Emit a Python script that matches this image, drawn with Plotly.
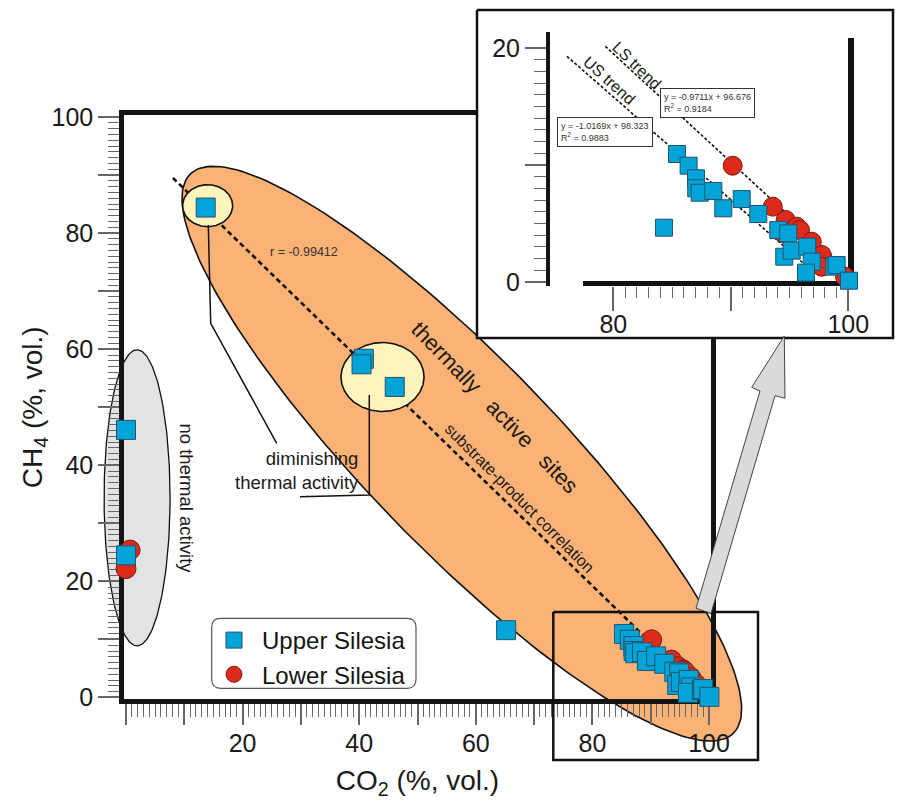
import numpy as np
import plotly.graph_objects as go

# ---------------- data ----------------
us_x = [13.67, 40.8, 40.4, 46.1, 0.0, 0.0, 65.2,
        85.42, 86.41, 87.04, 87.06, 87.35, 88.51, 89.36, 90.93, 92.34, 94.04,
        94.89, 94.55, 95.18, 96.51, 96.89, 96.40, 98.81, 99.01, 100.06]
us_y = [84.4, 58.35, 57.4, 53.5, 46.1, 24.5, 11.6,
        10.94, 9.94, 8.86, 8.01, 7.63, 7.78, 6.30, 7.09, 5.81, 4.44,
        4.16, 2.16, 2.68, 3.02, 1.74, 0.80, 1.31, 1.45, 0.11]
# sample that appears only in the enlarged panel
us_inset_only_x = [84.31]
us_inset_only_y = [4.64]
ls_x = [0.7, 0.0, 90.16, 93.57, 94.67, 95.61, 95.89, 96.89, 97.74, 97.74, 99.72, 94.47]
ls_y = [25.4, 22.2, 9.94, 6.44, 5.30, 4.73, 4.44, 3.44, 2.31, 1.31, 0.45, 4.16]

# correlation / trend lines (end points)
r_line_x = [8.06, 88.68]
r_line_y = [89.49, 10.77]
us_trend_x = [76.06, 97.19]
us_trend_y = [19.29, 0.71]
ls_trend_x = [79.32, 100.31]
ls_trend_y = [20.14, 0.71]

x_tick_vals = list(range(0, 101, 10))
x_tick_text = ["", "", "20", "", "40", "", "60", "", "80", "", "100"]
y_tick_text = ["0", "", "20", "", "40", "", "60", "", "80", "", "100"]
inset_x_ticks = [80, 90, 100]
inset_x_text = ["80", "", "100"]
inset_y_ticks = [0, 10, 20]
inset_y_text = ["0", "", "20"]

# ---------------- layout calibration ----------------
W, H = 905, 803
OFF = 8                   # page body margin: figure is drawn 8 px in from the window corner
FONT = "Liberation Sans, Arial, sans-serif"
X0, SX = 126.0, 5.83      # main: window pixel of CO2 = 0, px per unit
Y0, SY = 697.5, 5.805     # main: window pixel of CH4 = 0, px per unit
IX80, ISX = 613.3, 11.75  # inset: window pixel of CO2 = 80, px per unit
IY0, ISY = 282.0, 11.7    # inset: window pixel of CH4 = 0, px per unit


def fx(px):   # window pixel -> paper fraction
    return (px - OFF) / W


def fy(py):
    return 1 - (py - OFF) / H


def mx(px):
    return (px - X0) / SX


def my(py):
    return (Y0 - py) / SY


def ix(px):
    return 80 + (px - IX80) / ISX


def iy(py):
    return (IY0 - py) / ISY


full_xr = [mx(OFF), mx(OFF + W)]
full_yr = [my(OFF + H), my(OFF)]
pad = 0.3
frame_xd = [fx(X0 - pad * SX), fx(X0 + (100 + pad) * SX)]
frame_yd = [fy(Y0 + pad * SY), fy(Y0 - (100 + pad) * SY)]
ins_px = [550, 856]
ins_py = [286, 32]
ins_xr = [ix(ins_px[0]), ix(ins_px[1])]
ins_yr = [iy(ins_py[0]), iy(ins_py[1])]
ins_xd = [fx(ins_px[0]), fx(ins_px[1])]
ins_yd = [fy(ins_py[0]), fy(ins_py[1])]


def ellipse(cx, cy, a, b, ang=0.0, n=241):
    t = np.linspace(0, 2 * np.pi, n)
    c, s = np.cos(np.radians(ang)), np.sin(np.radians(ang))
    x = cx + a * np.cos(t) * c - b * np.sin(t) * s
    y = cy + a * np.cos(t) * s + b * np.sin(t) * c
    return x, y


fig = go.Figure()
BG = dict(xaxis="x", yaxis="y")
FR = dict(xaxis="x2", yaxis="y2")
FG = dict(xaxis="x3", yaxis="y3")
IN = dict(xaxis="x4", yaxis="y4")
nohover = dict(hoverinfo="skip", showlegend=False)

# ---- background subplot: regions, correlation line, leader lines ----
gx, gy = ellipse(1.9, 34.4, 5.66, 25.5)
fig.add_trace(go.Scatter(x=gx, y=gy, mode="lines", fill="toself", fillcolor="#e1e3e5",
                         line=dict(color="#111", width=1.3), **BG, **nohover))
ox, oy = ellipse(57.6, 42.0, 67.0, 16.3, -46)
fig.add_trace(go.Scatter(x=ox, y=oy, mode="lines", fill="toself", fillcolor="#fbb276",
                         line=dict(color="#111", width=1.6), **BG, **nohover))
fig.add_trace(go.Scatter(x=r_line_x, y=r_line_y, mode="lines",
                         line=dict(color="#111", width=2.6, dash="5px,3.5px"), **BG, **nohover))
for (cx, cy, a, b) in [(14.0, 84.72, 4.29, 3.62), (44.0, 55.21, 7.12, 5.94)]:
    ex, ey = ellipse(cx, cy, a, b)
    fig.add_trace(go.Scatter(x=ex, y=ey, mode="lines", fill="toself", fillcolor="#fff4bb",
                             line=dict(color="#111", width=1.6), **BG, **nohover))
fig.add_trace(go.Scatter(x=[mx(208.3), mx(210.7), mx(276.7)], y=[my(225), my(323.3), my(443.3)],
                         mode="lines", line=dict(color="#111", width=1.5), **BG, **nohover))
fig.add_trace(go.Scatter(x=[mx(369.3), mx(369.3), mx(300)], y=[my(395), my(495), my(496.7)],
                         mode="lines", line=dict(color="#111", width=1.5), **BG, **nohover))

# ---- frame subplot: data markers ----
fig.add_trace(go.Scatter(x=ls_x, y=ls_y, mode="markers", name="Lower Silesia", legendrank=2,
                         marker=dict(symbol="circle", size=20, color="#dd2a1b",
                                     line=dict(color="#7a1a10", width=1)),
                         cliponaxis=False, **FR))
fig.add_trace(go.Scatter(x=us_x, y=us_y, mode="markers", name="Upper Silesia", legendrank=1,
                         marker=dict(symbol="square", size=19, color="#00a4d6",
                                     line=dict(color="#24536e", width=1)),
                         cliponaxis=False, **FR))

# ---- foreground subplot: zoom box, inset cover, arrow ----
fig.add_trace(go.Scatter(x=[mx(553.3), mx(758), mx(758), mx(553.3), mx(553.3)],
                         y=[my(612), my(612), my(760), my(760), my(612)], mode="lines",
                         line=dict(color="#111", width=2.5), **FG, **nohover))
fig.add_trace(go.Scatter(x=[mx(477), mx(893), mx(893), mx(477), mx(477)],
                         y=[my(10), my(10), my(338), my(338), my(10)], mode="lines",
                         fill="toself", fillcolor="white",
                         line=dict(color="#111", width=2.5), **FG, **nohover))
arrow_px = [(784.3, 336), (785, 398.3), (775, 395.7), (711, 613.3), (696, 608.3),
            (760, 391), (751.7, 387.3), (784.3, 336)]
fig.add_trace(go.Scatter(x=[mx(p[0]) for p in arrow_px], y=[my(p[1]) for p in arrow_px],
                         mode="lines", fill="toself", fillcolor="#d9dadb",
                         line=dict(color="#444", width=1), **FG, **nohover))

# ---- inset subplot ----
fig.add_trace(go.Scatter(x=[ix(583), ix(854)], y=[iy(283.5), iy(283.5)], mode="lines",
                         line=dict(color="#111", width=5), **IN, **nohover))
fig.add_trace(go.Scatter(x=[ix(851), ix(851)], y=[ins_yr[0], iy(38)], mode="lines",
                         line=dict(color="#111", width=6), **IN, **nohover))
fig.add_trace(go.Scatter(x=us_trend_x, y=us_trend_y, mode="lines",
                         line=dict(color="#111", width=1.6, dash="3px,2px"), **IN, **nohover))
fig.add_trace(go.Scatter(x=ls_trend_x, y=ls_trend_y, mode="lines",
                         line=dict(color="#111", width=1.6, dash="3px,2px"), **IN, **nohover))
ins_ls = [(a, b) for a, b in zip(ls_x, ls_y) if a >= ins_xr[0]]
ins_us = [(a, b) for a, b in zip(us_x + us_inset_only_x, us_y + us_inset_only_y)
          if a >= ins_xr[0]]
fig.add_trace(go.Scatter(x=[p[0] for p in ins_ls], y=[p[1] for p in ins_ls], mode="markers",
                         marker=dict(symbol="circle", size=19, color="#dd2a1b",
                                     line=dict(color="#7a1a10", width=1)),
                         cliponaxis=False, **IN, **nohover))
fig.add_trace(go.Scatter(x=[p[0] for p in ins_us], y=[p[1] for p in ins_us], mode="markers",
                         marker=dict(symbol="square", size=17, color="#00a4d6",
                                     line=dict(color="#24536e", width=1)),
                         cliponaxis=False, **IN, **nohover))

hidden = dict(visible=False, showgrid=False, zeroline=False, fixedrange=True, automargin=False)
tickfont = dict(family=FONT, size=25, color="#1a1a1a")
axis_common = dict(showgrid=False, zeroline=False, fixedrange=True, showline=True,
                   linecolor="#141414", ticks="outside", tickcolor="#666", automargin=False,
                   tickfont=tickfont, layer="below traces", tickmode="array")

minor_main = [v for v in range(0, 101) if v % 10]

fig.update_layout(
    width=W, height=H, margin=dict(l=0, r=0, t=0, b=0, pad=0, autoexpand=False),
    paper_bgcolor="white", plot_bgcolor="rgba(0,0,0,0)",
    xaxis=dict(domain=[0, 1], range=full_xr, anchor="y", **hidden),
    yaxis=dict(domain=[0, 1], range=full_yr, anchor="x", **hidden),
    xaxis3=dict(domain=[0, 1], range=full_xr, anchor="y3", **hidden),
    yaxis3=dict(domain=[0, 1], range=full_yr, anchor="x3", **hidden),
    xaxis2=dict(domain=frame_xd, range=[-pad, 100 + pad], anchor="y2", mirror=True,
                linewidth=5, tickvals=x_tick_vals, ticktext=x_tick_text,
                ticklen=21, tickwidth=1.5, ticklabelstandoff=-3,
                minor=dict(tickmode="array", tickvals=minor_main, ticks="outside",
                           ticklen=13, tickwidth=1.2, tickcolor="#666"),
                title=dict(text="CO<sub>2</sub> (%, vol.)", standoff=16,
                           font=dict(family=FONT, size=28, color="#1a1a1a")),
                **axis_common),
    yaxis2=dict(domain=frame_yd, range=[-pad, 100 + pad], anchor="x2", mirror=True,
                linewidth=5, tickvals=x_tick_vals, ticktext=y_tick_text,
                ticklen=21, tickwidth=1.5,
                minor=dict(tickmode="array", tickvals=minor_main, ticks="outside",
                           ticklen=11, tickwidth=1.2, tickcolor="#666"),
                title=dict(text="CH<sub>4</sub> (%, vol.)", standoff=2,
                           font=dict(family=FONT, size=28, color="#1a1a1a")),
                **axis_common),
    xaxis4=dict(domain=ins_xd, range=ins_xr, anchor="y4", showgrid=False, zeroline=False,
                fixedrange=True, showline=False, ticks="outside", tickcolor="#666",
                automargin=False, ticklabelstandoff=-8,
                tickmode="array", tickvals=inset_x_ticks, ticktext=inset_x_text,
                ticklen=24, tickwidth=1.5, tickfont=tickfont,
                minor=dict(tickmode="array", tickvals=[v for v in range(81, 100) if v != 90],
                           ticks="outside", ticklen=11, tickwidth=1.2, tickcolor="#666")),
    yaxis4=dict(domain=ins_yd, range=ins_yr, anchor="x4", linewidth=4,
                tickvals=inset_y_ticks, ticktext=inset_y_text, ticklen=21, tickwidth=1.5,
                minor=dict(tickmode="array", tickvals=[v for v in range(1, 20) if v != 10],
                           ticks="outside", ticklen=12, tickwidth=1.2, tickcolor="#666"),
                **axis_common),
    legend=dict(x=fx(206), y=fy(618), xanchor="left", yanchor="top",
                bgcolor="rgba(0,0,0,0)", borderwidth=0, itemwidth=46,
                font=dict(family=FONT, size=24, color="#141414")),
)


def rr_path(x0, y0, x1, y1, r):
    def P(px, py):
        return f"{fx(px):.5f},{fy(py):.5f}"
    return (f"M {P(x0 + r, y0)} L {P(x1 - r, y0)} Q {P(x1, y0)} {P(x1, y0 + r)} "
            f"L {P(x1, y1 - r)} Q {P(x1, y1)} {P(x1 - r, y1)} L {P(x0 + r, y1)} "
            f"Q {P(x0, y1)} {P(x0, y1 - r)} L {P(x0, y0 + r)} Q {P(x0, y0)} {P(x0 + r, y0)} Z")


fig.add_shape(type="path", path=rr_path(211.7, 618.3, 416, 688.3, 9), xref="paper", yref="paper",
              line=dict(color="#555", width=1.2), layer="above")

txt = "#1a1a1a"
ann = [
    dict(x=mx(304), y=my(252), xref="x", yref="y", text="r = -0.99412",
         font=dict(family=FONT, size=12.5, color="#333")),
    dict(x=mx(495), y=my(407), xref="x", yref="y",
         text="thermally\u00a0\u00a0\u00a0active\u00a0\u00a0\u00a0sites", textangle=46,
         font=dict(family=FONT, size=22, color=txt)),
    dict(x=mx(520), y=my(498), xref="x", yref="y", text="substrate-product correlation",
         textangle=45, font=dict(family=FONT, size=16, color=txt)),
    dict(x=mx(186.5), y=my(498), xref="x", yref="y", text="no thermal activity",
         textangle=90, font=dict(family=FONT, size=18.5, color=txt)),
    dict(x=mx(361), y=my(470), xref="x", yref="y", text="diminishing<br>thermal activity",
         xanchor="right", align="right", font=dict(family=FONT, size=18.5, color=txt)),
    dict(x=ix(707.5), y=iy(102.8), xref="x4", yref="y4",
         text="y = -0.9711x + 96.676<br>R<sup>2</sup> = 0.9184", align="left",
         bgcolor="white", bordercolor="#333", borderwidth=1, borderpad=3,
         font=dict(family=FONT, size=9, color="#333")),
    dict(x=ix(604.8), y=iy(132.3), xref="x4", yref="y4",
         text="y = -1.0169x + 98.323<br>R<sup>2</sup> = 0.9883", align="left",
         bgcolor="white", bordercolor="#333", borderwidth=1, borderpad=3,
         font=dict(family=FONT, size=9, color="#333")),
    dict(x=ix(637), y=iy(65), xref="x4", yref="y4", text="LS trend", textangle=44,
         font=dict(family=FONT, size=16, color=txt)),
    dict(x=ix(609.5), y=iy(80), xref="x4", yref="y4", text="US trend", textangle=42,
         font=dict(family=FONT, size=16, color=txt)),
]
for a in ann:
    a.setdefault("showarrow", False)
    fig.add_annotation(**a)

fig.write_html("out.html")
